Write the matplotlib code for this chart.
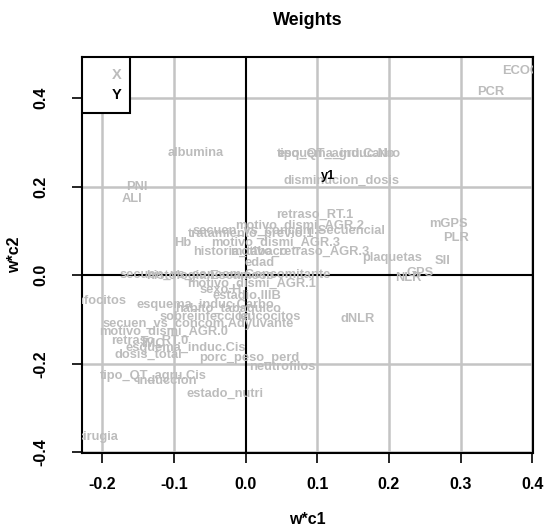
import matplotlib
matplotlib.use("Agg")
import matplotlib.pyplot as plt
from matplotlib.patches import Rectangle

plt.rcParams['font.family'] = ['Liberation Sans', 'DejaVu Sans']

# pesos de las variables X (w*c1, w*c2)
x_names = ['ECOG', 'PCR', 'albumina', 'esquema_induc.No', 'tipo_QT_agru.Carbo',
           'disminucion_dosis', 'PNI', 'ALI', 'retraso_RT.1', 'motivo_dismi_AGR.2',
           'secuen_vs_concom.Secuencial', 'tratamiento_previo.1', 'Hb',
           'motivo_dismi_AGR.3', 'historia_tabaco', 'motivo_retraso_AGR.3', 'edad',
           'secuen_vs_concom.Concomitante', 'histologia.Escamoso', 'motivo_dismi_AGR.1',
           'sexo.H', 'estadio.IIIB', 'linfocitos', 'esquema_induc.Carbo',
           'habito_tabaquico', 'sobreinfeccion', 'leucocitos', 'dNLR',
           'secuen_vs_concom.Adyuvante', 'motivo_dismi_AGR.0', 'retraso_RT.0', 'IMC',
           'esquema_induc.Cis', 'dosis_total', 'porc_peso_perd', 'neutrofilos',
           'tipo_QT_agru.Cis', 'induccion', 'estado_nutri', 'cirugia',
           'mGPS', 'PLR', 'plaquetas', 'SII', 'GPS', 'NLR']
wc1 = [0.385, 0.342, -0.070, 0.127, 0.130,
       0.134, -0.151, -0.158, 0.097, 0.075,
       0.061, 0.008, -0.087,
       0.042, -0.007, 0.076, 0.019,
       -0.028, -0.049, 0.009,
       -0.035, 0.002, -0.206, -0.056,
       -0.024, -0.056, 0.032, 0.157,
       -0.066, -0.115, -0.133, -0.129,
       -0.084, -0.136, 0.005, 0.051,
       -0.129, -0.111, -0.028, -0.207,
       0.283, 0.294, 0.205, 0.275, 0.243, 0.227]
wc2 = [0.462, 0.415, 0.277, 0.275, 0.273,
       0.214, 0.200, 0.173, 0.137, 0.112,
       0.101, 0.094, 0.072,
       0.074, 0.052, 0.052, 0.027,
       0.002, -0.001, -0.019,
       -0.034, -0.046, -0.057, -0.066,
       -0.077, -0.095, -0.095, -0.098,
       -0.109, -0.127, -0.149, -0.156,
       -0.165, -0.179, -0.186, -0.206,
       -0.228, -0.238, -0.267, -0.366,
       0.115, 0.085, 0.040, 0.033, 0.006, -0.007]

# peso de la variable respuesta
y_names = ['y1']
y_wc1 = [0.1155]
y_wc2 = [0.2253]

xticks = [-0.2, -0.1, 0.0, 0.1, 0.2, 0.3, 0.4]
yticks = [-0.4, -0.2, 0.0, 0.2, 0.4]

gris_txt = '#bcbcbc'
gris_grid = '#c4c4c4'

fig = plt.figure(figsize=(5.48, 5.31), dpi=100)
ax = fig.add_axes([0.149, 0.147, 0.8236, 0.7457])
ax.set_xlim(-0.2286, 0.4010)
ax.set_ylim(-0.4012, 0.4930)

# grilla
for v in xticks:
    if v != 0:
        ax.axvline(v, color=gris_grid, lw=1.8, zorder=1)
for v in yticks:
    if v != 0:
        ax.axhline(v, color=gris_grid, lw=1.8, zorder=1)
ax.axvline(0, color='black', lw=1.5, zorder=2)
ax.axhline(0, color='black', lw=1.5, zorder=2)

# etiquetas
for n, a, b in zip(x_names, wc1, wc2):
    ax.text(a, b, n, color=gris_txt, fontsize=9.3, fontweight='bold',
            ha='center', va='center', clip_on=True, zorder=3)
for n, a, b in zip(y_names, y_wc1, y_wc2):
    ax.text(a, b, n, color='black', fontsize=9.3, fontweight='bold',
            ha='center', va='center', clip_on=True, zorder=4)

# leyenda
ax.add_patch(Rectangle((0, 0.859), 0.107, 0.141, transform=ax.transAxes,
                       facecolor='white', edgecolor='black', lw=1.5, zorder=5))
ax.text(0.077, 0.955, 'X', transform=ax.transAxes, color=gris_txt, fontsize=10.5,
        fontweight='bold', ha='center', va='center', zorder=6)
ax.text(0.077, 0.905, 'Y', transform=ax.transAxes, color='black', fontsize=10.5,
        fontweight='bold', ha='center', va='center', zorder=6)

ax.set_xticks(xticks)
ax.set_yticks(yticks)
ax.set_xticklabels([f'{v:.1f}' for v in xticks], fontsize=11.5, fontweight='bold')
ax.set_yticklabels([f'{v:.1f}' for v in yticks], fontsize=11.5, fontweight='bold',
                   rotation=90, va='center')
ax.tick_params(axis='x', direction='out', length=7, width=1.2, pad=10)
ax.tick_params(axis='y', direction='out', length=7, width=1.2, pad=17)
for s in ax.spines.values():
    s.set_linewidth(1.5)

ax.set_xlabel('w*c1', fontsize=11.5, fontweight='bold', labelpad=15)
ax.set_ylabel('w*c2', fontsize=11.5, fontweight='bold', labelpad=8)
ax.set_title('Weights', fontsize=13, fontweight='bold', pad=23)

fig.savefig('out.png', dpi=100)
